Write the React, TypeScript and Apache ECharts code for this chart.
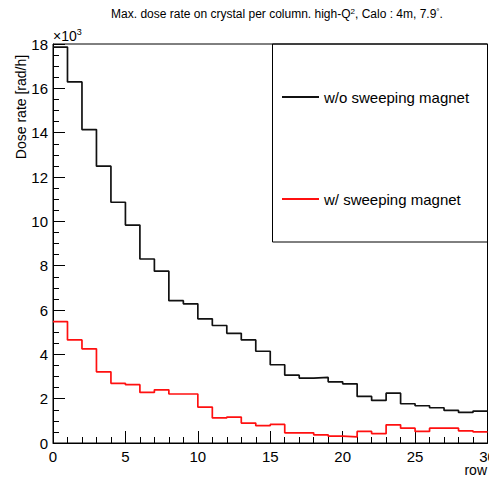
import React, { useEffect, useRef } from "react";
import * as echarts from "echarts";

const rows = [0, 1, 2, 3, 4, 5, 6, 7, 8, 9, 10, 11, 12, 13, 14, 15, 16, 17, 18, 19, 20, 21, 22, 23, 24, 25, 26, 27, 28, 29];
const withoutMagnet = [17.86, 16.29, 14.14, 12.49, 10.86, 9.83, 8.3, 7.75, 6.42, 6.28, 5.6, 5.3, 4.95, 4.65, 4.14, 3.53, 3.06, 2.93, 2.96, 2.76, 2.67, 2.1, 1.92, 2.25, 1.77, 1.68, 1.59, 1.47, 1.38, 1.44];
const withMagnet = [5.48, 4.65, 4.25, 3.21, 2.69, 2.63, 2.28, 2.4, 2.21, 2.21, 1.62, 1.13, 1.17, 0.9, 0.78, 0.84, 0.46, 0.46, 0.37, 0.31, 0.28, 0.52, 0.42, 0.82, 0.67, 0.52, 0.67, 0.67, 0.55, 0.5];
const xTicks = [0, 5, 10, 15, 20, 25, 30];
const yTicks = [0, 2, 4, 6, 8, 10, 12, 14, 16, 18];

const FONT = "Liberation Sans, Arial, Helvetica, sans-serif";

function toSteps(vals: number[]) {
  const pts = rows.map((r, i) => [r, vals[i]]);
  pts.push([rows[rows.length - 1] + 1, vals[vals.length - 1]]);
  return pts;
}

export default function App() {
  const ref = useRef<HTMLDivElement>(null);
  useEffect(() => {
    if (!ref.current) return;
    const chart = echarts.init(ref.current, null, { renderer: "svg" });
    chart.setOption({
      animation: false,
      backgroundColor: "#fff",
      grid: {
        left: 53,
        right: 1.5,
        top: 44,
        bottom: 34,
        show: true,
        borderColor: "#000",
        borderWidth: 1,
        containLabel: false,
        outerBoundsMode: "none",
      },
      xAxis: {
        type: "value",
        min: xTicks[0],
        max: xTicks[xTicks.length - 1],
        interval: 5,
        axisLine: { show: true, lineStyle: { color: "#000", width: 1 } },
        axisTick: { show: true, inside: true, length: 12, lineStyle: { color: "#000" } },
        minorTick: { show: true, splitNumber: 5, length: 6, lineStyle: { color: "#000" } },
        splitLine: { show: false },
        axisLabel: { color: "#000", fontSize: 15, fontFamily: FONT, margin: 6, showMaxLabel: true },
      },
      yAxis: {
        type: "value",
        min: yTicks[0],
        max: yTicks[yTicks.length - 1],
        interval: 2,
        axisLine: { show: true, lineStyle: { color: "#000", width: 1 } },
        axisTick: { show: true, inside: true, length: 12, lineStyle: { color: "#000" } },
        minorTick: { show: true, splitNumber: 4, length: 6, lineStyle: { color: "#000" } },
        splitLine: { show: false },
        axisLabel: { color: "#000", fontSize: 15, fontFamily: FONT, margin: 5 },
      },
      legend: [
        {
          data: ["w/o sweeping magnet"],
          left: 277,
          top: 84,
          icon: "rect",
          itemWidth: 37,
          itemHeight: 2,
          textStyle: { color: "#000", fontSize: 15, fontFamily: FONT, lineHeight: 16 },
        },
        {
          data: ["w/ sweeping magnet"],
          left: 277,
          top: 186,
          icon: "rect",
          itemWidth: 37,
          itemHeight: 2,
          textStyle: { color: "#000", fontSize: 15, fontFamily: FONT, lineHeight: 16 },
        },
      ],
      series: [
        {
          name: "w/o sweeping magnet",
          type: "line",
          step: "end",
          symbol: "none",
          data: toSteps(withoutMagnet),
          lineStyle: { color: "#111", width: 1.7 },
          itemStyle: { color: "#111" },
        },
        {
          name: "w/ sweeping magnet",
          type: "line",
          step: "end",
          symbol: "none",
          data: toSteps(withMagnet),
          lineStyle: { color: "#ff1010", width: 1.7 },
          itemStyle: { color: "#ff1010" },
        },
      ],
      graphic: [
        {
          type: "rect",
          shape: { x: 272.5, y: 44, width: 215, height: 198 },
          style: { fill: "none", stroke: "#000", lineWidth: 1 },
          z: 10,
        },
        {
          type: "text",
          x: 277,
          y: 14,
          style: {
            text: "Max. dose rate on crystal per column. high-Q{sup|2}, Calo : 4m, 7.9{sup|°}.",
            align: "center",
            verticalAlign: "middle",
            fill: "#000",
            fontSize: 12,
            fontFamily: FONT,
            rich: { sup: { fontSize: 8, verticalAlign: "top", padding: [0, 0, 6, 0], fontFamily: FONT, fill: "#000" } },
          },
        },
        {
          type: "text",
          x: 21,
          y: 107,
          rotation: Math.PI / 2,
          style: {
            text: "Dose rate [rad/h]",
            align: "center",
            verticalAlign: "middle",
            fill: "#000",
            fontSize: 14,
            fontFamily: FONT,
          },
        },
        {
          type: "text",
          x: 53,
          y: 36,
          style: {
            text: "×10{sup|3}",
            align: "left",
            verticalAlign: "middle",
            fill: "#000",
            fontSize: 14,
            fontFamily: FONT,
            rich: { sup: { fontSize: 9, padding: [0, 0, 8, 0], fontFamily: FONT, fill: "#000" } },
          },
        },
        {
          type: "text",
          x: 487,
          y: 470,
          style: {
            text: "row",
            align: "right",
            verticalAlign: "middle",
            fill: "#000",
            fontSize: 14,
            fontFamily: FONT,
          },
        },
      ],
    });
    return () => chart.dispose();
  }, []);
  return <div ref={ref} style={{ position: "absolute", left: 0, top: 0, width: 489, height: 477 }} />;
}
